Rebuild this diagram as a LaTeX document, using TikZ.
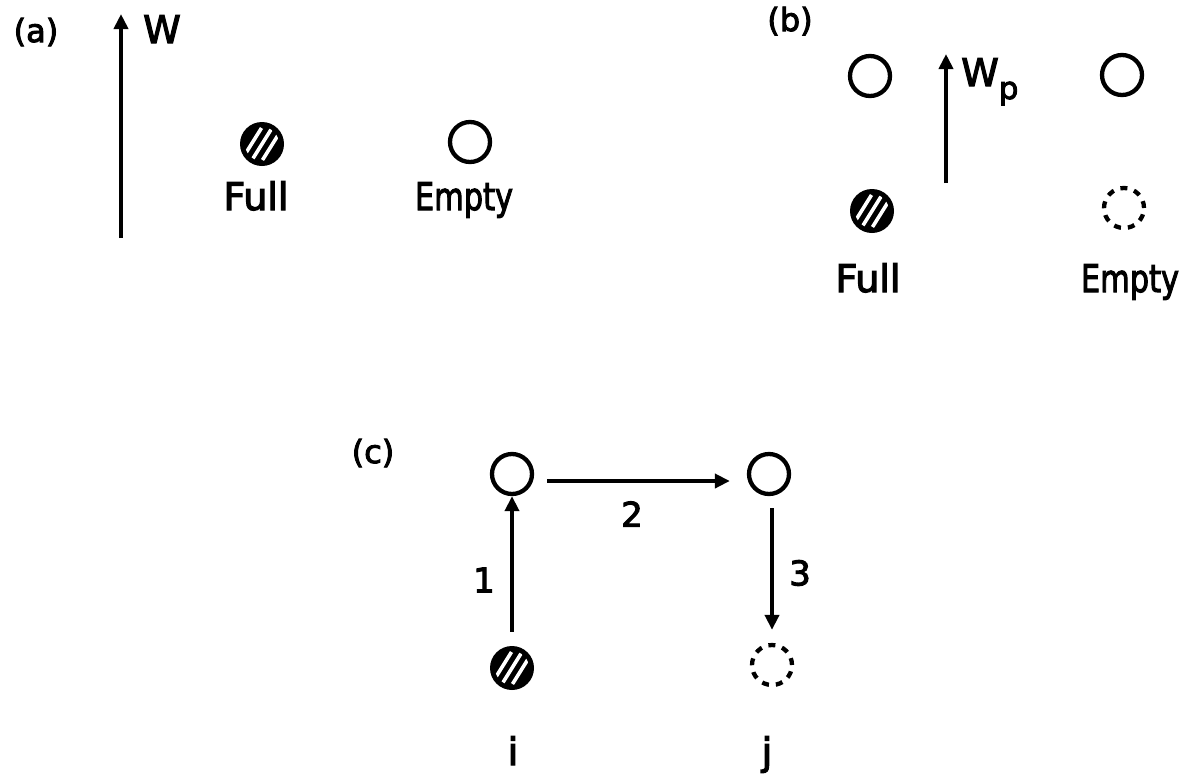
\documentclass[tikz,border=0pt]{standalone}
\usepackage{fontspec}
\setmainfont[FakeBold=3]{DejaVu Sans}
\usetikzlibrary{arrows.meta}
\tikzset{
  ring/.style={circle, draw, line width=4.3pt, minimum size=40pt, inner sep=0pt},
  dring/.style={ring, dash pattern=on 7pt off 7pt},
  hatched/.style={circle, fill=black, minimum size=44pt, inner sep=0pt,
    path picture={
      \clip (path picture bounding box.center) circle (17pt);
      \foreach \d in {-10.5,0,10.5}
        \draw[white, line width=3.6pt] ([shift={(\d-10,16)}]path picture bounding box.center) -- ++(20,-32);
    }},
  arr/.style={line width=4pt, -{Triangle[length=15pt,width=14pt]}},
  lbl/.style={font=\fontsize{38}{40}\selectfont, inner sep=0pt},
  tag/.style={font=\fontsize{32}{34}\selectfont, inner sep=0pt},
  num/.style={font=\fontsize{34}{36}\selectfont, inner sep=0pt},
}
\begin{document}
\begin{tikzpicture}[x=1pt,y=-1pt]
\useasboundingbox (0,0) rectangle (1183,777);
% ---------- (a) ----------
\node[tag] (la) at (36,32) {(a)};
\coordinate (aS) at (121,238);
\coordinate (aT) at (121,14);
\draw[arr, line width=4.5pt] (aS) -- (aT);
\node[lbl, anchor=base west] (aW) at (143,43) {W};
\node[hatched] (aF) at (262,144) {};
\node[ring] (aE) at (470,142) {};
\node[lbl, anchor=base] (aFt) at (256,210) {Full};
\node[lbl, anchor=base] (aEt) at (464,210) {\scalebox{0.8}[1]{Empty}};
% ---------- (b) ----------
\node[tag] (lb) at (790,21) {(b)};
\node[ring] (bTL) at (870,76) {};
\node[ring] (bTR) at (1122,75) {};
\coordinate (bS) at (946,183);
\coordinate (bT) at (946,54);
\draw[arr] (bS) -- (bT);
\node[lbl, anchor=base west] (bW) at (961,86) {W\raisebox{-13pt}{\fontsize{31}{31}\selectfont p}};
\node[hatched] (bF) at (872,211) {};
\node[dring] (bE) at (1124,208) {};
\node[lbl, anchor=base] (bFt) at (868,292) {Full};
\node[lbl, anchor=base] (bEt) at (1130,292) {\scalebox{0.8}[1]{Empty}};
% ---------- (c) ----------
\node[tag] (lc) at (373,453) {(c)};
\node[ring] (c1) at (512,474) {};
\node[ring] (c2) at (769,474) {};
\node[hatched] (ci) at (512,668) {};
\node[dring] (cj) at (772,665) {};
\draw[arr] (ci.north) ++(0,-14) -- (c1.south);
\draw[arr, shorten <=13pt, shorten >=17pt] ([yshift=-7pt]c1.east) -- ([yshift=-7pt]c2.west);
\draw[arr, shorten <=12pt, shorten >=13pt] (cj |- c2.south) -- (cj.north);
\node[num] (n1) at (484,580) {1};
\node[num] (n2) at (632,514) {2};
\node[num] (n3) at (800,573) {3};
\node[lbl, anchor=base] (ti) at (513,765) {i};
\node[lbl, anchor=base] (tj) at (767,765) {j};
\end{tikzpicture}
\end{document}
